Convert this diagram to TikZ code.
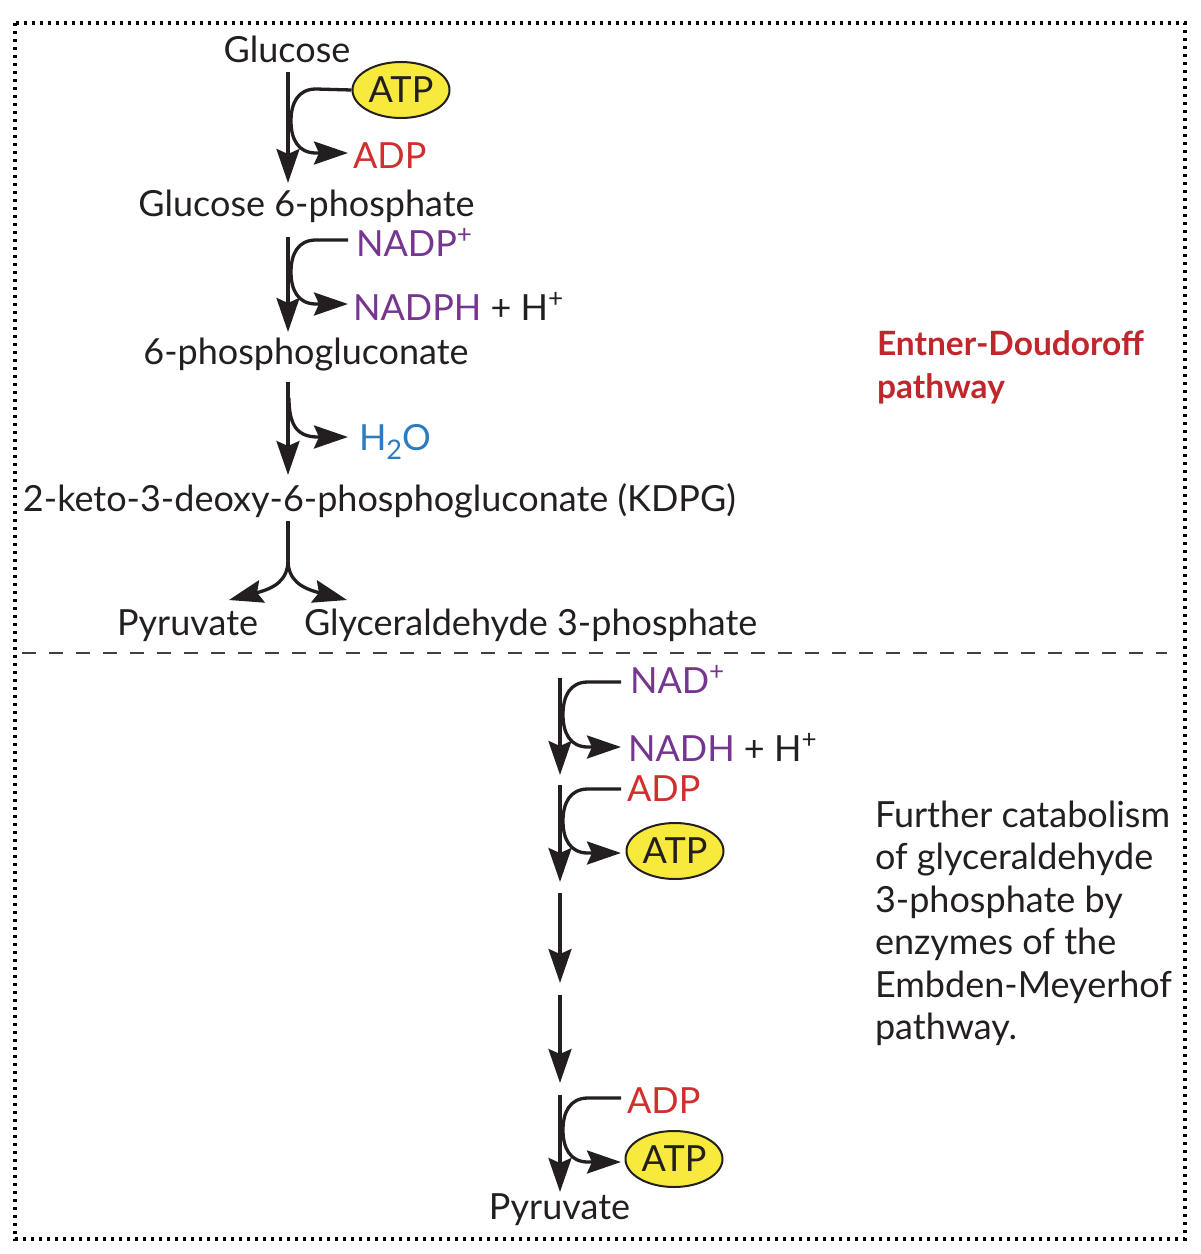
\documentclass[tikz,border=0pt]{standalone}
\usepackage{fontspec}
\setmainfont{Lato}
\usetikzlibrary{arrows.meta,shapes.geometric}
\definecolor{txtdark}{HTML}{231F20}
\definecolor{adpred}{HTML}{D12F2E}
\definecolor{nadpurple}{HTML}{76368F}
\definecolor{waterblue}{HTML}{2B7BC0}
\definecolor{atpyellow}{HTML}{F8EA3C}
\definecolor{edred}{HTML}{C0272D}
\newcommand\lblsize{\fontsize{36}{42.5}\selectfont}
\newcommand\edsize{\fontsize{33.5}{43}\selectfont}
\newcommand\supplus{\raisebox{0.34em}[0.68em][0pt]{\fontsize{26}{26}\selectfont +}}
\newcommand\subtwo{\raisebox{-0.25em}{\fontsize{27}{27}\selectfont 2}}
\begin{document}
\begin{tikzpicture}[x=1pt,y=-1pt,
  lbl/.style={inner sep=0pt, outer sep=0pt, font=\lblsize, text=txtdark},
  atpnode/.style={ellipse, draw=txtdark, line width=2pt, fill=atpyellow,
    minimum width=97pt, minimum height=56pt, inner sep=0pt, font=\lblsize, text=txtdark},
  flow/.style={line width=3.3pt, draw=txtdark, -{Stealth[length=34pt,width=23pt,inset=5pt]}},
  link/.style={line width=3.3pt, draw=txtdark}
]
\useasboundingbox (0,0) rectangle (1201,1254);
% frame and separator
\draw[line width=3.3pt, dash pattern=on 3.3pt off 4.7pt] (15,23) rectangle (1185,1239);
\draw[line width=2pt, draw=black!75, dash pattern=on 14pt off 13pt] (22,653) -- (1167,653);

% top section texts
\node[lbl, anchor=base] (glc) at (287,62) {Glucose};
\node[atpnode] (atp1) at (401,90) {ATP};
\node[lbl, anchor=base west, text=adpred] (adp1) at (353,168) {ADP};
\node[lbl, anchor=base] (g6p) at (306.5,216) {Glucose 6-phosphate};
\node[lbl, anchor=base west, text=nadpurple] (nadp) at (356,256) {NADP\supplus};
\node[lbl, anchor=base west] (nadph) at (353,320) {\textcolor{nadpurple}{NADPH} + H\supplus};
\node[lbl, anchor=base] (pg) at (306,364) {6-phosphogluconate};
\node[lbl, anchor=base west, text=waterblue] (water) at (359,450) {H\subtwo O};
\node[lbl, anchor=base west] (kdpg) at (23,511) {2-keto-3-deoxy-6-phosphogluconate (KDPG)};
\node[lbl, anchor=base west] (pyr1) at (117,635) {Pyruvate};
\node[lbl, anchor=base west] (gap) at (304,635) {Glyceraldehyde 3-phosphate};
\node[lbl, anchor=base west, align=left, text=edred, font=\edsize\bfseries] (ed) at (877,398) {Entner-Doudoroff\\pathway};

% bottom section texts
\node[lbl, anchor=base west, text=nadpurple] (nad) at (630,693) {NAD\supplus};
\node[lbl, anchor=base west] (nadh) at (628,761) {\textcolor{nadpurple}{NADH} + H\supplus};
\node[lbl, anchor=base west, text=adpred] (adp2) at (627,801) {ADP};
\node[atpnode] (atp2) at (675,851) {ATP};
\node[lbl, anchor=base west, text=adpred] (adp3) at (627,1113) {ADP};
\node[atpnode] (atp3) at (674,1159) {ATP};
\node[lbl, anchor=base] (pyr2) at (559.5,1219) {Pyruvate};
\node[lbl, anchor=base west, align=left] (further) at (875,1039.5) {Further catabolism\\of glyceraldehyde\\3-phosphate by\\enzymes of the\\Embden-Meyerhof\\pathway.};

% connector end points
\coordinate (m1s) at (288,72);  \coordinate (m1e) at (288,183);
\coordinate (m2s) at (288,237); \coordinate (m2e) at (288,332);
\coordinate (m3s) at (288,382); \coordinate (m3e) at (288,475);
\coordinate (m4s) at (288,521); \coordinate (fork) at (288,560);
\coordinate (b1s) at (560,678); \coordinate (b1e) at (560,775);
\coordinate (b2s) at (560,785); \coordinate (b2e) at (560,882);
\coordinate (b3s) at (560,893); \coordinate (b3e) at (560,983);
\coordinate (b4s) at (560,995); \coordinate (b4e) at (560,1083);
\coordinate (b5s) at (560,1095); \coordinate (b5e) at (560,1192);
\coordinate (t1) at (348,153);
\coordinate (s2) at (348,240); \coordinate (t2) at (348,304);
\coordinate (w0) at (289,398); \coordinate (t3) at (348,437);
\coordinate (py1) at (229,600); \coordinate (ga1) at (347,600);
\coordinate (s4) at (621,682); \coordinate (t4) at (621,747);
\coordinate (s5) at (621,789); \coordinate (t5) at (621,853);
\coordinate (s6) at (621,1098); \coordinate (t6) at (621,1162);

% main arrows
\draw[flow] (m1s) -- (m1e);
\draw[flow] (m2s) -- (m2e);
\draw[flow] (m3s) -- (m3e);
\draw[link] (m4s) -- (fork);
\draw[flow] (fork) .. controls (288,580) and (275,588) .. (py1);
\draw[flow] (fork) .. controls (288,580) and (301,588) .. (ga1);
\draw[flow] (b1s) -- (b1e);
\draw[flow] (b2s) -- (b2e);
\draw[flow] (b3s) -- (b3e);
\draw[flow] (b4s) -- (b4e);
\draw[flow] (b5s) -- (b5e);

% side loops
\draw[flow] (atp1.west) -- (316,89) .. controls (298,89) and (291,103) .. (291,121) .. controls (291,139) and (298,153) .. (316,153) -- (t1);
\draw[flow] (s2) -- (316,240) .. controls (298,240) and (291,254) .. (291,272) .. controls (291,290) and (298,304) .. (316,304) -- (t2);
\draw[flow] (w0) .. controls (289,425) and (297,437) .. (318,437) -- (t3);
\draw[flow] (s4) -- (588,682) .. controls (570,682) and (563,696) .. (563,714.5) .. controls (563,733) and (570,747) .. (588,747) -- (t4);
\draw[flow] (s5) -- (588,789) .. controls (570,789) and (563,803) .. (563,821) .. controls (563,839) and (570,853) .. (588,853) -- (t5);
\draw[flow] (s6) -- (588,1098) .. controls (570,1098) and (563,1112) .. (563,1130) .. controls (563,1148) and (570,1162) .. (588,1162) -- (t6);
\end{tikzpicture}
\end{document}
